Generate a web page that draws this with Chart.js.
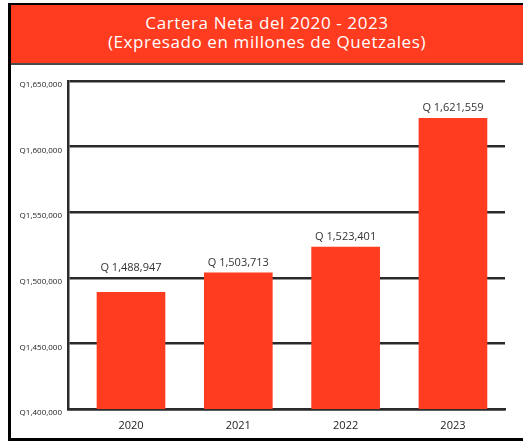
<!DOCTYPE html>
<html>
<head>
<meta charset="utf-8">
<script src="https://cdn.jsdelivr.net/npm/chart.js@4"></script>
<style>
  body { margin: 0; background: #fff; width: 523px; height: 441px; overflow: hidden; font-family: "Open Sans", Lato, sans-serif; }
  #marco { position: absolute; left: 8px; top: 3px; width: 520px; height: 433px; border-left: 3px solid #000; border-top: 2px solid #000; border-bottom: 3px solid #000; pointer-events: none; }
  #titulo { position: absolute; left: 11px; top: 5px; width: 512px; height: 50px; padding-top: 8px; background: #ff3b20; border-bottom: 2px solid #4a4a4a; color: #fff; text-align: center; font-size: 17px; line-height: 19px; letter-spacing: 0.6px; }
  #grafico { position: absolute; left: 0; top: 0; }
</style>
</head>
<body>
<canvas id="grafico" width="523" height="441"></canvas>
<div id="titulo">Cartera Neta del 2020 - 2023<br>(Expresado en millones de Quetzales)</div>
<div id="marco"></div>
<script>
const anios = ["2020", "2021", "2022", "2023"];
const cartera = [1488947, 1503713, 1523401, 1621559];
const ejeMin = 1400000;
const ejeMax = 1650000;
const ejePaso = 50000;

const formato = (v) => v.toLocaleString("en-US");

// etiquetas encima de cada barra (se suben si chocan con una linea de la cuadricula)
const etiquetasBarras = {
    id: "etiquetasBarras",
    afterDatasetsDraw(chart) {
        const ctx = chart.ctx;
        const meta = chart.getDatasetMeta(0);
        const yEje = chart.scales.y;
        const lineas = yEje.ticks.map((t) => yEje.getPixelForValue(t.value));
        ctx.save();
        ctx.font = "11px 'Open Sans'";
        ctx.fillStyle = "#333";
        ctx.textAlign = "center";
        ctx.textBaseline = "middle";
        meta.data.forEach((barra, i) => {
            let y = barra.y - 10;
            lineas.forEach((ly) => {
                if (Math.abs(y - ly) < 7) y = ly - 10;
            });
            ctx.fillText("Q " + formato(cartera[i]), barra.x, y);
        });
        ctx.restore();
    },
};

const ctxCartera = document.getElementById("grafico").getContext("2d");
new Chart(ctxCartera, {
    type: "bar",
    data: {
        datasets: [
            {
                data: cartera.map((v, i) => ({ x: i, y: v })),
                backgroundColor: "#ff3b20",
                barThickness: 68,
            },
        ],
    },
    options: {
        responsive: false,
        animation: false,
        layout: { padding: { left: 0, right: 18, top: 81, bottom: 0 } },
        plugins: { legend: { display: false }, tooltip: { enabled: false } },
        scales: {
            x: {
                type: "linear",
                offset: false,
                min: -0.587,
                max: 3.485,
                grid: { display: false },
                border: { display: true, color: "#2a2a2a", width: 2.5 },
                afterBuildTicks: (s) => { s.ticks = anios.map((_, i) => ({ value: i })); },
                ticks: {
                    color: "#222",
                    font: { size: 11, family: "Open Sans" },
                    padding: 2,
                    callback: (v) => anios[v],
                },
                afterFit: (s) => { s.height = 32; },
            },
            y: {
                min: ejeMin,
                max: ejeMax,
                grid: { color: "#2a2a2a", lineWidth: 2.5, drawTicks: false },
                border: { display: true, color: "#2a2a2a", width: 2.5 },
                ticks: {
                    stepSize: ejePaso,
                    color: "#222",
                    font: { size: 8, family: "Open Sans" },
                    padding: 6,
                    labelOffset: 4,
                    callback: (v) => "Q" + formato(v),
                },
                afterFit: (s) => { s.width = 68; },
            },
        },
    },
    plugins: [etiquetasBarras],
});
</script>
</body>
</html>
